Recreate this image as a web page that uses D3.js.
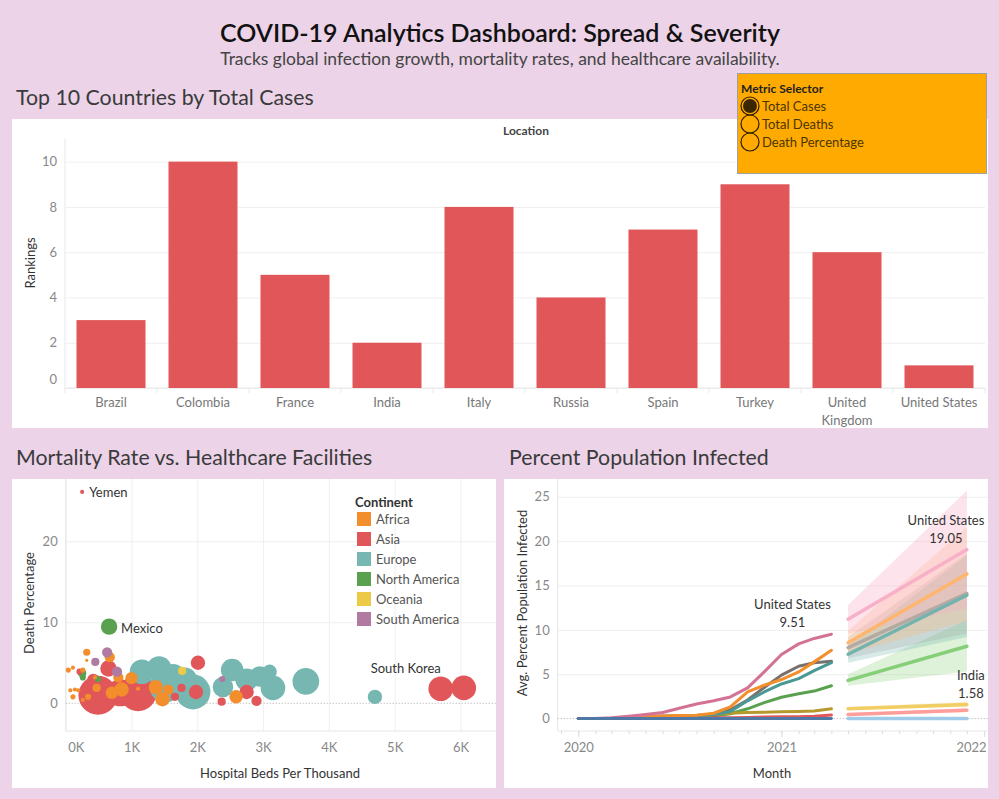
<!DOCTYPE html>
<html><head><meta charset="utf-8">
<script src="https://cdn.jsdelivr.net/npm/d3@7"></script>
<style>
body{margin:0;background:#ECD3E8;}
svg{display:block;font-family:Lato, "Open Sans", sans-serif;}
</style>
</head><body>
<svg id="c" width="999" height="799"></svg>
<script>
// ---------------- DATA ----------------
const barCountries = ["Brazil","Colombia","France","India","Italy","Russia","Spain","Turkey","United Kingdom","United States"];
const barRankings = [3,10,5,2,8,4,7,9,6,1];
const barTicks = [0,2,4,6,8,10];

const metricOptions = ["Total Cases","Total Deaths","Death Percentage"];
const selectedMetric = "Total Cases";

const continents = ["Africa","Asia","Europe","North America","Oceania","South America"];
const continentColors = ["#F28E2B","#E15759","#76B7B2","#59A14F","#EDC948","#B07AA1"];

// [hospital beds per thousand (summed), death percentage, size, label]
const africaPts = [[2590,0.8,170],[1470,0.5,195],[1370,2.0,195],[1560,1.7,100],[850,1.7,195],[700,1.3,144],
  [800,3.2,100],[1000,3.1,144],[470,1.9,64],[670,5.7,100],[320,6.3,49],[340,0.8,36],[40,4.1,25],[70,1.6,16],
  [110,0.8,25],[190,1.6,16],[260,0.4,16],[1100,1.8,16],[260,4.1,25],[445,3.2,16],[320,5.3,9],[110,4.4,16],[140,1.7,16]];
const asiaPts = [[490,1.0,1440],[1100,1.3,1290],[830,1.3,700],[2010,5.0,195],[1980,1.4,195],[2750,1.4,195],
  [2370,0.2,64],[2900,0.3,100],[1760,1.9,64],[650,4.3,255],[420,2.9,144],[1660,0.8,64],
  [5700,1.8,575,"South Korea"],[6050,1.9,575],[250,26.1,16,"Yemen"],[210,3.9,36]];
const europePts = [[1935,1.4,1150],[1510,2.0,900],[1160,3.9,575],[1420,4.3,575],[1630,3.2,675],[1810,2.9,575],
  [2390,2.0,400],[2530,4.1,480],[2750,2.9,480],[2950,3.3,400],[3100,3.9,195],[3150,1.9,575],[3650,2.7,675],[4700,0.8,195]];
const northAmericaPts = [[660,9.46,255,"Mexico"],[250,3.7,64],[260,3.2,36],[490,3.0,36]];
const oceaniaPts = [[1770,4.0,64]];
const southAmericaPts = [[630,6.3,100],[450,5.1,64],[780,3.9,100],[2380,3.0,36]];
const scatterXTicks = [0,1000,2000,3000,4000,5000,6000];
const scatterYTicks = [10,20];

const lineMonths = ["2020-01","2020-02","2020-03","2020-04","2020-05","2020-06","2020-07","2020-08",
  "2020-09","2020-10","2020-11","2020-12","2021-01","2021-02","2021-03","2021-04"];
const forecastMonths = ["2021-05","2021-12"];
const seriesNames = ["United States","Spain","France","United Kingdom","Italy","India","Russia","China"];
const actualColors = ["#D37295","#F28E2B","#79706E","#499894","#59A14F","#B6992D","#E15759","#4E79A7"];
const forecastColors = ["#F8AFC8","#FFB56E","#B3A9A5","#74B3AD","#86CF78","#F1CE63","#FF9D9A","#A0CBE8"];
const usActual      = [0,0,0.08,0.26,0.45,0.68,1.17,1.65,2.0,2.44,3.46,5.27,7.22,8.42,9.03,9.51];
const spainActual   = [0,0,0.02,0.19,0.26,0.3,0.34,0.38,0.6,1.32,3.0,3.76,4.4,5.26,6.39,7.7];
const franceActual  = [0,0,0.02,0.12,0.2,0.25,0.3,0.35,0.5,1.0,2.1,3.5,4.9,5.9,6.3,6.45];
const ukActual      = [0,0,0.02,0.12,0.2,0.25,0.3,0.35,0.45,0.8,2.0,3.0,3.9,4.5,5.4,6.3];
const italyActual   = [0,0,0.01,0.05,0.1,0.15,0.2,0.25,0.3,0.55,1.1,1.8,2.4,2.8,3.1,3.7];
const indiaActual   = [0,0,0,0.01,0.02,0.05,0.15,0.3,0.45,0.6,0.68,0.72,0.77,0.8,0.85,1.1];
const russiaActual  = [0,0,0,0,0,0.01,0.02,0.05,0.08,0.1,0.13,0.17,0.2,0.22,0.26,0.4];
const chinaActual   = [0,0,0,0,0,0,0,0,0,0,0,0,0,0,0,0.01];
const usForecast     = [11.2,19.05], usLow = [9.6,12.4],  usHigh = [12.8,25.7];
const spainForecast  = [8.55,16.3],  spainLow = [7.3,11.0], spainHigh = [9.9,21.6];
const franceForecast = [8.0,14.1],   franceLow = [6.8,9.6], franceHigh = [9.2,18.6];
const ukForecast     = [7.25,13.9],  ukLow = [6.3,9.2],     ukHigh = [8.2,18.4];
const italyForecast  = [4.3,8.15],   italyLow = [3.7,5.3],  italyHigh = [5.0,11.1];
const indiaForecast  = [1.12,1.58],  indiaLow = [0.95,1.3], indiaHigh = [1.3,1.9];
const russiaForecast = [0.45,0.94],  russiaLow = [0.35,0.75], russiaHigh = [0.55,1.15];
const chinaForecast  = [0.0,0.0],    chinaLow = [0,0],      chinaHigh = [0,0];
const lineYTicks = [5,10,15,20,25];
const lineYears = ["2020","2021","2022"];

// ---------------- DRAW ----------------
const svg = d3.select("#c");
const FONT = "Lato, 'Open Sans', sans-serif";
const FS = 13;
svg.append("rect").attr("width",999).attr("height",799).attr("fill","#ECD3E8");

svg.append("text").attr("x",500).attr("y",32).attr("text-anchor","middle").attr("dominant-baseline","central")
  .attr("font-size",25).attr("font-weight",600).attr("fill","#111").text("COVID-19 Analytics Dashboard: Spread & Severity");
svg.append("text").attr("x",500).attr("y",58).attr("text-anchor","middle").attr("dominant-baseline","central")
  .attr("font-size",17.5).attr("fill","#444").text("Tracks global infection growth, mortality rates, and healthcare availability.");

function sectionTitle(x,y,t){
  svg.append("text").attr("x",x).attr("y",y).attr("dominant-baseline","central")
    .attr("font-size",21.3).attr("fill","#3a3a3a").text(t);
}
sectionTitle(16,97,"Top 10 Countries by Total Cases");
sectionTitle(16,457,"Mortality Rate vs. Healthcare Facilities");
sectionTitle(509,457,"Percent Population Infected");

function panel(x,y,w,h){ svg.append("rect").attr("x",x).attr("y",y).attr("width",w).attr("height",h).attr("fill","#fff"); }
panel(12,119,976,309);
panel(12,479,484,309);
panel(504,479,484,309);

function styleAxis(g,size,color){
  g.select(".domain").remove();
  g.selectAll("text").attr("font-family",FONT).attr("font-size",size).attr("fill",color);
}

// ---- Bar chart ----
const bx = d3.scaleBand().domain(barCountries).range([65,985]).paddingInner(0.25).paddingOuter(0.125);
const by = d3.scaleLinear().domain([0,11]).range([388,139]);
const bg = svg.append("g");
bg.append("g").attr("transform","translate(65,0)")
  .call(d3.axisLeft(by).tickValues(barTicks).tickSize(-920).tickFormat(""))
  .call(g=>{g.select(".domain").remove(); g.selectAll("line").attr("stroke","#EFEFEF");});
bg.append("line").attr("x1",65).attr("x2",65).attr("y1",139).attr("y2",388).attr("stroke","#E8E8E8");
bg.append("line").attr("x1",65).attr("x2",985).attr("y1",388).attr("y2",388).attr("stroke","#E8E8E8");
d3.range(barCountries.length+1).forEach(i=>{
  const x = 65 + i*bx.step();
  bg.append("line").attr("x1",x).attr("x2",x).attr("y1",388).attr("y2",393).attr("stroke","#E8E8E8");
});
bg.selectAll("rect.bar").data(barCountries).join("rect").attr("class","bar")
  .attr("x",d=>bx(d)).attr("width",bx.bandwidth())
  .attr("y",(d,i)=>by(barRankings[i])).attr("height",(d,i)=>by(0)-by(barRankings[i]))
  .attr("fill","#E15759");
bg.append("g").attr("transform","translate(65,0)")
  .call(d3.axisLeft(by).tickValues(barTicks).tickSize(0).tickPadding(8))
  .call(g=>{styleAxis(g,FS,"#888"); g.selectAll(".tick").filter(d=>d===0).select("text").attr("dy","-0.35em");});
const bxAxis = bg.append("g").attr("transform","translate(0,388)")
  .call(d3.axisBottom(bx).tickSize(0).tickPadding(14).tickFormat(""));
bxAxis.select(".domain").remove();
bxAxis.selectAll(".tick").each(function(d){
  const words = d==="United Kingdom" ? ["United","Kingdom"] : [d];
  const t = d3.select(this).append("text").attr("font-family",FONT).attr("font-size",FS).attr("fill","#777")
    .attr("text-anchor","middle");
  words.forEach((w,i)=>t.append("tspan").attr("x",0).attr("y",14+i*18).attr("dominant-baseline","central").text(w));
});
bg.append("text").attr("x",30).attr("y",263).attr("transform","rotate(-90,30,263)").attr("text-anchor","middle")
  .attr("dominant-baseline","central").attr("font-size",FS).attr("fill","#333").text("Rankings");
bg.append("text").attr("x",526).attr("y",130).attr("text-anchor","middle").attr("dominant-baseline","central")
  .attr("font-size",12).attr("font-weight",700).attr("fill","#444").text("Location");

// ---- Metric selector ----
const ms = svg.append("g");
ms.append("rect").attr("x",737.5).attr("y",73.5).attr("width",249).attr("height",100).attr("fill","#FFAA00").attr("stroke","#A0A0A0");
ms.append("text").attr("x",741).attr("y",88).attr("dominant-baseline","central").attr("font-size",12)
  .attr("font-weight",700).attr("fill","#222").text("Metric Selector");
metricOptions.forEach((m,i)=>{
  const cy = 106 + i*18;
  ms.append("circle").attr("cx",750).attr("cy",cy).attr("r",9).attr("fill","none").attr("stroke","#2b1d00").attr("stroke-width",1.2);
  if(m===selectedMetric) ms.append("circle").attr("cx",750).attr("cy",cy).attr("r",7).attr("fill","#3a2600");
  ms.append("text").attr("x",762).attr("y",cy).attr("dominant-baseline","central").attr("font-size",13)
    .attr("fill","#4a3500").text(m);
});

// ---- Scatter ----
const sx = d3.scaleLinear().domain([0,6540]).range([65.7,496]);
const sy = d3.scaleLinear().domain([-3.42,27.69]).range([731,479]);
const sr = d3.scaleSqrt().domain([0,1440]).range([0,19.5]);
const cColor = d3.scaleOrdinal().domain(continents).range(continentColors);
const sg = svg.append("g");
sg.append("g").attr("transform","translate(0,731)")
  .call(d3.axisBottom(sx).tickValues(scatterXTicks).tickSize(-252).tickFormat(""))
  .call(g=>{g.select(".domain").remove(); g.selectAll("line").attr("stroke","#EFEFEF");});
sg.append("g").attr("transform","translate(65.7,0)")
  .call(d3.axisLeft(sy).tickValues(scatterYTicks).tickSize(-430).tickFormat(""))
  .call(g=>{g.select(".domain").remove(); g.selectAll("line").attr("stroke","#EFEFEF");});
sg.append("line").attr("x1",65.7).attr("x2",65.7).attr("y1",479).attr("y2",731).attr("stroke","#E6E6E6");
sg.append("line").attr("x1",65.7).attr("x2",496).attr("y1",731).attr("y2",731).attr("stroke","#E6E6E6");
sg.append("line").attr("x1",65.7).attr("x2",496).attr("y1",sy(0)).attr("y2",sy(0)).attr("stroke","#AAA").attr("stroke-dasharray","1,2");

const ptsByCont = [africaPts,asiaPts,europePts,northAmericaPts,oceaniaPts,southAmericaPts];
const allPts = [];
ptsByCont.forEach((arr,i)=>arr.forEach(p=>allPts.push({cont:continents[i],beds:p[0],death:p[1],size:p[2],label:p[3]})));
allPts.sort((a,b)=>b.size-a.size);
sg.selectAll("circle.pt").data(allPts).join("circle").attr("class","pt")
  .attr("cx",d=>sx(d.beds)).attr("cy",d=>sy(d.death)).attr("r",d=>sr(d.size)).attr("fill",d=>cColor(d.cont));
const labelOffsets = {"Yemen":[7,0,"start"],"Mexico":[12,1,"start"],"South Korea":[-35,-21,"middle"]};
allPts.filter(d=>d.label).forEach(d=>{
  const o = labelOffsets[d.label];
  sg.append("text").attr("x",sx(d.beds)+o[0]).attr("y",sy(d.death)+o[1]).attr("text-anchor",o[2])
    .attr("dominant-baseline","central").attr("font-size",FS).attr("fill","#333").text(d.label);
});
sg.append("g").attr("transform","translate(0,731)")
  .call(d3.axisBottom(sx).tickValues(scatterXTicks).tickSize(0).tickPadding(12).tickFormat(d=>(d/1000)+"K"))
  .call(g=>{styleAxis(g,FS,"#888"); g.selectAll(".tick").filter(d=>d===0).select("text").attr("text-anchor","start").attr("dx",2);});
sg.append("g").attr("transform","translate(65.7,0)")
  .call(d3.axisLeft(sy).tickValues([0].concat(scatterYTicks)).tickSize(0).tickPadding(8))
  .call(g=>styleAxis(g,FS,"#888"));
sg.append("text").attr("x",29).attr("y",603).attr("transform","rotate(-90,29,603)").attr("text-anchor","middle")
  .attr("dominant-baseline","central").attr("font-size",FS).attr("fill","#333").text("Death Percentage");
sg.append("text").attr("x",280).attr("y",773).attr("text-anchor","middle").attr("dominant-baseline","central")
  .attr("font-size",FS).attr("fill","#333").text("Hospital Beds Per Thousand");
// legend
sg.append("text").attr("x",355).attr("y",502).attr("dominant-baseline","central").attr("font-size",FS)
  .attr("font-weight",700).attr("fill","#333").text("Continent");
continents.forEach((c,i)=>{
  const y = 519 + i*20;
  sg.append("rect").attr("x",357).attr("y",y-7).attr("width",14).attr("height",14).attr("fill",cColor(c));
  sg.append("text").attr("x",376).attr("y",y).attr("dominant-baseline","central").attr("font-size",FS)
    .attr("fill","#555").text(c);
});

// ---- Line chart ----
const parseM = d3.timeParse("%Y-%m");
const lx = d3.scaleTime().domain([new Date(2019,10,25), new Date(2022,0,8)]).range([557.7,988]);
const ly = d3.scaleLinear().domain([-1.4,27]).range([731,479]);
const lg = svg.append("g");
lg.append("g").attr("transform","translate(557.7,0)")
  .call(d3.axisLeft(ly).tickValues(lineYTicks).tickSize(-430).tickFormat(""))
  .call(g=>{g.select(".domain").remove(); g.selectAll("line").attr("stroke","#EFEFEF");});
lg.append("line").attr("x1",557.7).attr("x2",557.7).attr("y1",479).attr("y2",731).attr("stroke","#E6E6E6");
lg.append("line").attr("x1",557.7).attr("x2",988).attr("y1",731).attr("y2",731).attr("stroke","#E6E6E6");
lg.append("g").attr("transform","translate(0,731)")
  .call(d3.axisBottom(lx).ticks(d3.timeMonth.every(1)).tickSize(3).tickFormat(""))
  .call(g=>{g.select(".domain").remove(); g.selectAll("line").attr("stroke","#DDD");});
lg.append("g").attr("transform","translate(0,731)")
  .call(d3.axisBottom(lx).tickValues(lineYears.map(y=>new Date(+y,0,1))).tickSize(6).tickFormat(""))
  .call(g=>{g.select(".domain").remove(); g.selectAll("line").attr("stroke","#DDD");});
lg.append("line").attr("x1",557.7).attr("x2",988).attr("y1",ly(0)).attr("y2",ly(0)).attr("stroke","#AAA").attr("stroke-dasharray","1,2");

const actualSeries = [usActual,spainActual,franceActual,ukActual,italyActual,indiaActual,russiaActual,chinaActual];
const fcSeries = [usForecast,spainForecast,franceForecast,ukForecast,italyForecast,indiaForecast,russiaForecast,chinaForecast];
const fcLow = [usLow,spainLow,franceLow,ukLow,italyLow,indiaLow,russiaLow,chinaLow];
const fcHigh = [usHigh,spainHigh,franceHigh,ukHigh,italyHigh,indiaHigh,russiaHigh,chinaHigh];
const mDates = lineMonths.map(parseM), fDates = forecastMonths.map(parseM);
const line = d3.line().x(d=>lx(d[0])).y(d=>ly(d[1]));
const area = d3.area().x(d=>lx(d[0])).y0(d=>ly(d[1])).y1(d=>ly(d[2]));
const drawOrder = [4,6,5,2,3,1,0,7];
drawOrder.forEach(i=>{
  lg.append("path").datum(fDates.map((d,j)=>[d,fcLow[i][j],fcHigh[i][j]])).attr("d",area)
    .attr("fill",forecastColors[i]).attr("opacity",i===0?0.35:0.28);
});
drawOrder.forEach(i=>{
  lg.append("path").datum(fDates.map((d,j)=>[d,fcSeries[i][j]])).attr("d",line)
    .attr("fill","none").attr("stroke",forecastColors[i]).attr("stroke-width",3.5).attr("stroke-linecap","round");
});
drawOrder.forEach(i=>{
  lg.append("path").datum(mDates.map((d,j)=>[d,actualSeries[i][j]])).attr("d",line)
    .attr("fill","none").attr("stroke",actualColors[i]).attr("stroke-width",3).attr("stroke-linecap","round").attr("stroke-linejoin","round");
});
function markLabel(x,y,name,val,dx,anchor){
  lg.append("text").attr("x",x+dx).attr("y",y-30).attr("text-anchor",anchor).attr("dominant-baseline","central")
    .attr("font-size",FS).attr("fill","#333").text(name);
  lg.append("text").attr("x",x+dx).attr("y",y-12).attr("text-anchor",anchor).attr("dominant-baseline","central")
    .attr("font-size",FS).attr("fill","#333").text(val.toFixed(2));
}
markLabel(lx(mDates[mDates.length-1]), ly(usActual[usActual.length-1]), "United States", usActual[usActual.length-1], -39, "middle");
markLabel(lx(fDates[1]), ly(usForecast[1]), "United States", usForecast[1], -21, "middle");
markLabel(lx(fDates[1]), ly(indiaForecast[1]), "India", indiaForecast[1], 4, "middle");

lg.append("g").attr("transform","translate(0,731)")
  .call(d3.axisBottom(lx).tickValues(lineYears.map(y=>new Date(+y,0,1))).tickSize(0).tickPadding(12).tickFormat(d3.timeFormat("%Y")))
  .call(g=>{styleAxis(g,FS,"#888"); g.selectAll(".tick").filter((d,i)=>i===2).select("text").attr("text-anchor","end").attr("dx",2);});
lg.append("g").attr("transform","translate(557.7,0)")
  .call(d3.axisLeft(ly).tickValues([0].concat(lineYTicks)).tickSize(0).tickPadding(8))
  .call(g=>styleAxis(g,FS,"#888"));
lg.append("text").attr("x",522).attr("y",603).attr("transform","rotate(-90,522,603)").attr("text-anchor","middle")
  .attr("dominant-baseline","central").attr("font-size",FS).attr("fill","#333").text("Avg. Percent Population Infected");
lg.append("text").attr("x",772).attr("y",773).attr("text-anchor","middle").attr("dominant-baseline","central")
  .attr("font-size",FS).attr("fill","#333").text("Month");
</script>
</body></html>
